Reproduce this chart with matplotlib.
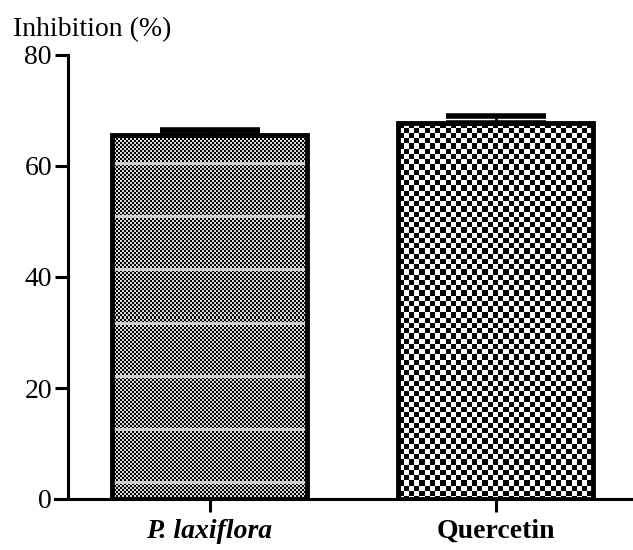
import numpy as np
import matplotlib
matplotlib.use('Agg')
import matplotlib.pyplot as plt

# Inhibition (%) per sample, mean and SEM
samples = ['P. laxiflora', 'Quercetin']
inhibition = [65.6, 67.8]
sem = [0.8, 1.2]
y_ticks = [0, 20, 40, 60, 80]

plt.rcParams['font.family'] = 'Liberation Serif'

W, H = 633, 550
fig = plt.figure(figsize=(W / 100, H / 100), dpi=100)
ax = fig.add_axes([55 / W, 1 - 499 / H, 1 - 55 / W, 444 / H])

x = np.arange(len(samples))
bar_w = 0.68
bars = ax.bar(x, inhibition, width=bar_w, color='white', edgecolor='none', zorder=1)
ax.set_xlim(-0.54, 1.48)
ax.set_ylim(0, 80)


def texture(kind, nx, ny):
    yy, xx = np.mgrid[0:ny, 0:nx]
    if kind == 0:
        # fine dotted fill with lighter horizontal bands
        img = (((xx // 2) + (yy // 2)) % 2) * 0.85
        band = ((yy - 28) % 53) < 3
        img[band] = np.maximum(img[band], 0.75)
    else:
        # coarse checkerboard
        img = (((xx / 5.25).astype(int) + (yy / 5.25).astype(int)) % 2).astype(float)
    return img


for i, b in enumerate(bars):
    x0, y0 = b.get_x(), b.get_y()
    x1, y1 = x0 + b.get_width(), y0 + b.get_height()
    p0 = ax.transData.transform((x0, y0))
    p1 = ax.transData.transform((x1, y1))
    nx = int(round(p1[0] - p0[0]))
    ny = int(round(p1[1] - p0[1]))
    im = ax.imshow(texture(i, nx, ny), cmap='gray', vmin=0, vmax=1,
                   extent=[x0, x1, y0, y1], origin='upper', aspect='auto',
                   interpolation='nearest', zorder=2)
    im.set_clip_path(b)

ax.set_xlim(-0.54, 1.48)
ax.set_ylim(0, 80)

ax.bar(x, inhibition, width=bar_w, fill=False, edgecolor='black', linewidth=3.5, zorder=3)
ax.errorbar(x, inhibition, yerr=[[0] * len(sem), sem], fmt='none', ecolor='black',
            elinewidth=2, capsize=36, capthick=4, zorder=4)

for s in ['top', 'right']:
    ax.spines[s].set_visible(False)
ax.spines['left'].set_position(('data', -0.495))
ax.spines['left'].set_bounds(0, 80)
ax.spines['left'].set_linewidth(2.2)
ax.spines['bottom'].set_linewidth(2.2)

ax.set_yticks(y_ticks)
ax.set_xticks(x)
ax.set_xticklabels(samples)
ax.tick_params(axis='y', length=9.5, width=2.2, labelsize=20, pad=2)
ax.tick_params(axis='x', length=9.5, width=2.2, labelsize=20, pad=5)
lbls = ax.get_xticklabels()
lbls[0].set_fontweight('bold')
lbls[0].set_fontstyle('italic')
lbls[1].set_fontweight('bold')

fig.text(13 / W, 1 - 30 / H, 'Inhibition (%)', fontsize=20, va='center', ha='left')

fig.savefig('out.png', dpi=100)
